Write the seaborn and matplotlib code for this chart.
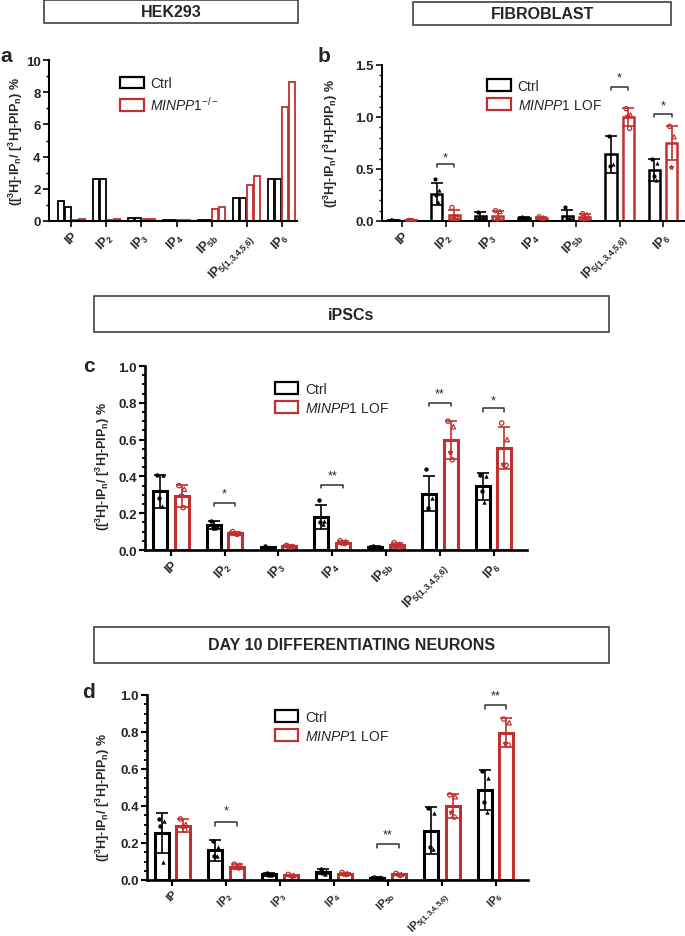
import matplotlib
matplotlib.use("Agg")
import matplotlib.pyplot as plt
from matplotlib.patches import Patch, Rectangle
from matplotlib import font_manager
import pandas as pd
import seaborn as sns

RED = "#c0302e"

categories = ["IP", "IP2", "IP3", "IP4", "IP5b", "IP5(1,3,4,5,6)", "IP6"]
tick_labels = ["IP", "IP$_{2}$", "IP$_{3}$", "IP$_{4}$", "IP$_{5b}$",
               "IP$_{5(1{,}3{,}4{,}5{,}6)}$", "IP$_{6}$"]

# a - HEK293, two replicate bars per genotype
hek_ctrl_1 = [1.25, 2.6, 0.20, 0.05, 0.05, 1.45, 2.6]
hek_ctrl_2 = [0.90, 2.6, 0.20, 0.05, 0.05, 1.45, 2.6]
hek_ko_1 = [0.07, 0.08, 0.12, 0.04, 0.75, 2.25, 7.10]
hek_ko_2 = [0.15, 0.12, 0.12, 0.06, 0.90, 2.80, 8.65]

# b - fibroblast
fib_ctrl_mean = [0.005, 0.26, 0.05, 0.03, 0.05, 0.64, 0.49]
fib_ctrl_sd = [0.002, 0.11, 0.04, 0.01, 0.06, 0.18, 0.11]
fib_lof_mean = [0.005, 0.06, 0.05, 0.03, 0.04, 1.00, 0.75]
fib_lof_sd = [0.002, 0.05, 0.045, 0.01, 0.03, 0.09, 0.165]
fib_ctrl_pts = [[0.006, 0.004, 0.005, 0.003], [0.40, 0.30, 0.25, 0.18], [0.09, 0.04, 0.03, 0.02],
                [0.04, 0.03, 0.03, 0.02], [0.13, 0.03, 0.02, 0.02], [0.82, 0.55, 0.53],
                [0.60, 0.56, 0.43, 0.39]]
fib_lof_pts = [[0.006, 0.004, 0.005, 0.004], [0.13, 0.04, 0.03, 0.04], [0.10, 0.09, 0.02, 0.01],
               [0.04, 0.03, 0.03, 0.02], [0.07, 0.06, 0.02, 0.01], [1.08, 1.02, 1.01, 0.89],
               [0.91, 0.81, 0.52]]
fib_sig = [(1, 0.55, 0.61, "*"), (5, 1.29, 1.38, "*"), (6, 1.03, 1.11, "*")]

# c - iPSCs
ipsc_ctrl_mean = [0.32, 0.136, 0.015, 0.18, 0.015, 0.305, 0.346]
ipsc_ctrl_sd = [0.09, 0.024, 0.004, 0.065, 0.005, 0.095, 0.072]
ipsc_lof_mean = [0.295, 0.092, 0.02, 0.04, 0.025, 0.598, 0.554]
ipsc_lof_sd = [0.06, 0.008, 0.005, 0.008, 0.015, 0.102, 0.113]
ipsc_ctrl_pts = [[0.41, 0.41, 0.28, 0.24], [0.16, 0.13, 0.12, 0.12], [0.02, 0.015, 0.012, 0.01],
                 [0.27, 0.16, 0.15, 0.14], [0.02, 0.015, 0.012, 0.01], [0.44, 0.28, 0.23],
                 [0.41, 0.40, 0.32, 0.26]]
ipsc_lof_pts = [[0.35, 0.33, 0.30, 0.23], [0.10, 0.09, 0.09, 0.085], [0.025, 0.02, 0.02, 0.015],
                [0.05, 0.045, 0.04, 0.035], [0.04, 0.03, 0.02, 0.01], [0.70, 0.67, 0.53, 0.49],
                [0.69, 0.60, 0.47, 0.46]]
ipsc_sig = [(1, 0.255, 0.305, "*"), (3, 0.353, 0.405, "**"), (5, 0.80, 0.85, "**"), (6, 0.77, 0.815, "*")]

# d - day 10 differentiating neurons
neu_ctrl_mean = [0.253, 0.16, 0.03, 0.045, 0.013, 0.267, 0.486]
neu_ctrl_sd = [0.107, 0.055, 0.008, 0.012, 0.004, 0.125, 0.11]
neu_lof_mean = [0.294, 0.072, 0.025, 0.035, 0.03, 0.40, 0.795]
neu_lof_sd = [0.035, 0.012, 0.004, 0.004, 0.005, 0.065, 0.078]
neu_ctrl_pts = [[0.33, 0.32, 0.29, 0.10], [0.21, 0.18, 0.13, 0.13], [0.04, 0.03, 0.025, 0.025],
                [0.06, 0.05, 0.04, 0.035], [0.018, 0.014, 0.011, 0.01], [0.39, 0.36, 0.18, 0.17],
                [0.59, 0.55, 0.42, 0.37]]
neu_lof_pts = [[0.33, 0.30, 0.29, 0.27], [0.085, 0.08, 0.07, 0.065], [0.03, 0.025, 0.025, 0.02],
               [0.04, 0.035, 0.035, 0.03], [0.035, 0.03, 0.03, 0.025], [0.46, 0.45, 0.37, 0.34],
               [0.87, 0.85, 0.74, 0.73]]
neu_sig = [(1, 0.313, 0.375, "*"), (4, 0.195, 0.245, "**"), (6, 0.946, 0.995, "**")]

sns.set_style("ticks")
names = {f.name for f in font_manager.fontManager.ttflist}
FAM = "Liberation Sans" if "Liberation Sans" in names else "DejaVu Sans"
NARROW = "Liberation Sans Narrow" if "Liberation Sans Narrow" in names else FAM
plt.rcParams["font.family"] = [FAM, "DejaVu Sans"]
plt.rcParams["mathtext.fontset"] = "custom"
plt.rcParams["mathtext.rm"] = FAM
plt.rcParams["mathtext.it"] = FAM + ":italic"
plt.rcParams["mathtext.bf"] = FAM + ":bold"
plt.rcParams["mathtext.default"] = "bf"

W, H = 685, 937
fig = plt.figure(figsize=(W / 100, H / 100), dpi=100)


def px_axes(left, top, right, bottom):
    return fig.add_axes([left / W, 1 - bottom / H, (right - left) / W, (bottom - top) / H])


def title_box(x0, y0, x1, y1, text):
    fig.patches.append(Rectangle((x0 / W, 1 - y1 / H), (x1 - x0) / W, (y1 - y0) / H,
                                 transform=fig.transFigure, fill=False, lw=1.1, ec="#333333"))
    fig.text((x0 + x1) / 2 / W, 1 - (y0 + y1) / 2 / H, text, ha="center", va="center",
             fontsize=11.5, fontweight="bold")


ylab = "([$^{3}$H]-IP$_{n}$/ [$^{3}$H]-PIP$_{n}$) %"


def style_axes(ax, ymax, major, minor, spine_lw, fam, fs, xfs, xlim, lab_x, lab_y):
    ax.set_ylim(0, ymax)
    ax.set_xlim(*xlim)
    ax.set_yticks([i * major for i in range(int(round(ymax / major)) + 1)])
    ax.set_yticks([i * minor for i in range(int(round(ymax / minor)) + 1)], minor=True)
    ax.set_xticks(range(len(categories)))
    ax.set_xticklabels(tick_labels, rotation=45, ha="right", rotation_mode="anchor",
                       fontweight="bold", fontsize=xfs, family=fam)
    for t in ax.get_yticklabels():
        t.set_fontweight("bold")
        t.set_fontsize(fs + 0.5)
        t.set_family(fam)
    sns.despine(ax=ax)
    for s in ("left", "bottom"):
        ax.spines[s].set_linewidth(spine_lw)
        ax.spines[s].set_color("black")
    ax.tick_params(axis="both", which="major", length=4, width=spine_lw * 0.8, color="black", pad=2)
    ax.tick_params(axis="y", which="minor", length=2.5, width=spine_lw * 0.7, color="black")
    ax.tick_params(axis="x", which="both", pad=2)
    ax.set_xlabel("")
    ax.set_ylabel(ylab, fontweight="bold", fontsize=fs, family=fam)
    ax.yaxis.set_label_coords(lab_x, lab_y)


def legend(ax, ko_label, x, y, fs):
    handles = [Patch(facecolor="white", edgecolor="black", lw=1.6),
               Patch(facecolor="white", edgecolor=RED, lw=1.6)]
    ax.legend(handles, ["Ctrl", ko_label], loc="upper left", bbox_to_anchor=(x, y), frameon=False,
              handlelength=1.7, handleheight=0.9, handletextpad=0.5, borderaxespad=0, borderpad=0,
              labelspacing=0.35, fontsize=fs)


def mean_panel(ax, ctrl_mean, ctrl_sd, lof_mean, lof_sd, ctrl_pts, lof_pts, sig, lw, ms):
    df = pd.DataFrame({"cat": categories * 2,
                       "grp": ["Ctrl"] * 7 + ["LOF"] * 7,
                       "val": list(ctrl_mean) + list(lof_mean)})
    sns.barplot(data=df, x="cat", y="val", hue="grp", palette={"Ctrl": "black", "LOF": RED},
                fill=False, width=0.8, gap=0.35, linewidth=lw, errorbar=None, legend=False, ax=ax)
    off = 0.2
    xs = list(range(len(categories)))
    ax.errorbar([x - off for x in xs], ctrl_mean, yerr=ctrl_sd, fmt="none", ecolor="black",
                elinewidth=1.2, capsize=4, capthick=1.2, zorder=4)
    ax.errorbar([x + off for x in xs], lof_mean, yerr=lof_sd, fmt="none", ecolor=RED,
                elinewidth=1.2, capsize=4, capthick=1.2, zorder=4)
    ctrl_mk = ["o", "^", "o", "^"]
    lof_mk = ["o", "^", "*", "o"]
    lof_fill = ["none", "none", RED, "none"]
    jit = [-0.05, 0.05, -0.02, 0.03]
    for i in xs:
        for j, v in enumerate(ctrl_pts[i]):
            ax.scatter(i - off + jit[j], v, s=ms, marker=ctrl_mk[j], color="black", zorder=5, lw=0)
        for j, v in enumerate(lof_pts[i]):
            ax.scatter(i + off + jit[j], v, s=ms, marker=lof_mk[j], facecolor=lof_fill[j],
                       edgecolor=RED, lw=0.9, zorder=5)
    for i, yb, ys, txt in sig:
        d = ax.get_ylim()[1] * 0.025
        ax.plot([i - off, i - off, i + off, i + off], [yb - d, yb, yb, yb - d], color="#333333",
                lw=1.1, clip_on=False)
        ax.text(i, ys, txt, ha="center", va="center", fontsize=9, clip_on=False)


# --- title boxes
title_box(44, 1, 298, 24, "HEK293")
title_box(413, 3, 671, 26, "FIBROBLAST")
title_box(94, 297, 609, 333, "iPSCs")
title_box(94, 628, 609, 664, "DAY 10 DIFFERENTIATING NEURONS")

# --- a
ax_a = px_axes(49, 61, 297, 222)
reps = ["c1", "c2", "k1", "k2"]
df_a = pd.DataFrame({"cat": categories * 4,
                     "rep": [r for r in reps for _ in categories],
                     "val": hek_ctrl_1 + hek_ctrl_2 + hek_ko_1 + hek_ko_2})
sns.barplot(data=df_a, x="cat", y="val", hue="rep",
            palette={"c1": "black", "c2": "black", "k1": RED, "k2": RED},
            fill=False, width=0.8, gap=0.15, linewidth=1.3, errorbar=None, legend=False, ax=ax_a)
style_axes(ax_a, 10, 2, 1, 1.5, FAM, 9, 9, (-0.64, 6.44), -0.097, 0.5)
legend(ax_a, r"$\mathit{MINPP1}^{\mathit{-/-}}$", 0.286, 0.90, 10)

# --- b
ax_b = px_axes(382, 66, 684, 222)
mean_panel(ax_b, fib_ctrl_mean, fib_ctrl_sd, fib_lof_mean, fib_lof_sd, fib_ctrl_pts, fib_lof_pts,
           fib_sig, 1.8, 9)
style_axes(ax_b, 1.5, 0.5, 0.1, 1.4, FAM, 9, 9, (-0.46, 6.48), -0.139, 0.5)
legend(ax_b, r"$\mathit{MINPP1}$ LOF", 0.348, 0.91, 10)

# --- c
ax_c = px_axes(145, 367, 527, 551)
mean_panel(ax_c, ipsc_ctrl_mean, ipsc_ctrl_sd, ipsc_lof_mean, ipsc_lof_sd, ipsc_ctrl_pts,
           ipsc_lof_pts, ipsc_sig, 2.2, 10)
style_axes(ax_c, 1.0, 0.2, 0.05, 1.9, NARROW, 9, 9, (-0.48, 6.62), -0.086, 0.457)
legend(ax_c, r"$\mathit{MINPP1}$ LOF", 0.34, 0.913, 10)

# --- d
ax_d = px_axes(147, 696, 528, 881)
mean_panel(ax_d, neu_ctrl_mean, neu_ctrl_sd, neu_lof_mean, neu_lof_sd, neu_ctrl_pts,
           neu_lof_pts, neu_sig, 2.2, 10)
style_axes(ax_d, 1.0, 0.2, 0.05, 1.9, NARROW, 9, 8, (-0.47, 6.60), -0.092, 0.45)
legend(ax_d, r"$\mathit{MINPP1}$ LOF", 0.335, 0.92, 10)

# panel letters
for x, y, s in [(0, 57, "a"), (318, 57, "b"), (83, 366, "c"), (82, 692, "d")]:
    fig.text(x / W, 1 - y / H, s, fontsize=15, fontweight="bold", ha="left", va="center")

fig.savefig("out.png", dpi=100)
